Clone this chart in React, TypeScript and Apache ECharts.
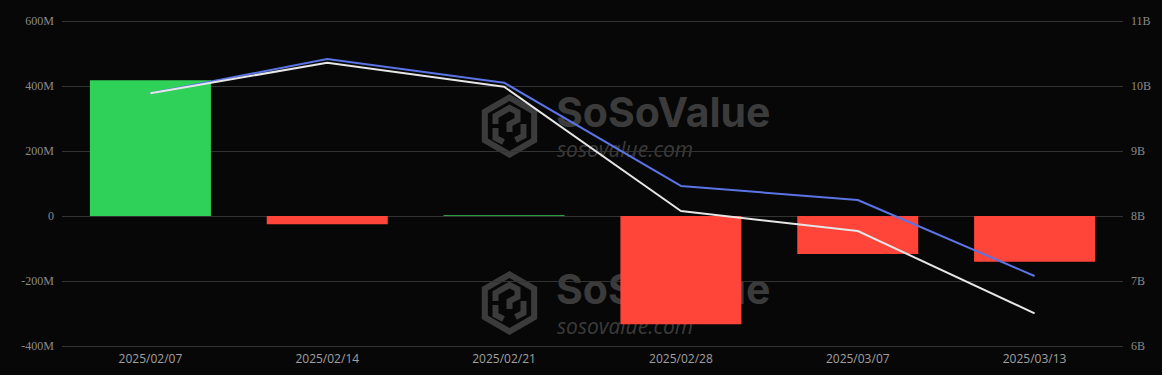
import React, { useEffect, useRef } from "react";
import * as echarts from "echarts";

const categories = ["2025/02/07", "2025/02/14", "2025/02/21", "2025/02/28", "2025/03/07", "2025/03/13"];
const netFlow = [418e6, -25e6, 2e6, -333e6, -117e6, -141e6];
const blueLine = [9.888e9, 10.415e9, 10.051e9, 8.462e9, 8.246e9, 7.077e9];
const whiteLine = [9.888e9, 10.358e9, 9.989e9, 8.077e9, 7.769e9, 6.503e9];

const GREEN = "#30d158";
const RED = "#ff453a";
const BG = "#070707";
const WM = "#3b3b3b";

function hexPoints(cx: number, cy: number, r: number) {
  const pts: number[][] = [];
  for (let i = 0; i < 6; i++) {
    const a = ((-90 + i * 60) * Math.PI) / 180;
    pts.push([cx + r * Math.cos(a), cy + r * Math.sin(a)]);
  }
  return pts;
}

function watermark(dy: number) {
  const cx = 509.5;
  const cy = 126 + dy;
  return {
    type: "group",
    silent: true,
    z: -10,
    children: [
      { type: "polygon", shape: { points: hexPoints(cx, cy, 32) }, style: { fill: WM } },
      { type: "polygon", shape: { points: hexPoints(cx, cy, 25) }, style: { fill: BG } },
      {
        type: "polyline",
        shape: {
          points: [
            [cx - 14, cy - 2],
            [cx - 14, cy - 10],
            [cx, cy - 18],
            [cx + 8, cy - 14],
            [cx + 8, cy - 6],
            [cx, cy - 2],
            [cx, cy + 6],
          ],
        },
        style: { stroke: WM, lineWidth: 6, fill: null },
      },
      {
        type: "polyline",
        shape: {
          points: [
            [cx - 14, cy + 2],
            [cx - 14, cy + 12],
            [cx - 6, cy + 16],
          ],
        },
        style: { stroke: WM, lineWidth: 6, fill: null },
      },
      {
        type: "polyline",
        shape: {
          points: [
            [cx + 14, cy - 2],
            [cx + 14, cy + 10],
            [cx + 6, cy + 14],
          ],
        },
        style: { stroke: WM, lineWidth: 6, fill: null },
      },
      {
        type: "text",
        x: 556,
        y: 132 + dy,
        style: {
          text: "SoSoValue",
          fill: WM,
          font: "bold 41px Inter",
          textVerticalAlign: "bottom",
        },
      },
      {
        type: "text",
        x: 557,
        y: 138 + dy,
        style: {
          text: "sosovalue.com",
          fill: WM,
          font: "italic 21px 'Open Sans'",
          textVerticalAlign: "top",
        },
      },
    ],
  };
}

export default function App() {
  const ref = useRef<HTMLDivElement>(null);
  useEffect(() => {
    if (!ref.current) return;
    const chart = echarts.init(ref.current, null, { renderer: "svg" });
    chart.setOption({
      animation: false,
      backgroundColor: BG,
      grid: { left: 62, right: 39, top: 21, bottom: 29 },
      graphic: [watermark(0), watermark(177)],
      xAxis: {
        type: "category",
        data: categories,
        axisLine: { show: false },
        axisTick: { show: false },
        axisLabel: { color: "#a0a0a0", fontSize: 12, fontFamily: "'Open Sans'", margin: 6 },
      },
      yAxis: [
        {
          type: "value",
          min: -400e6,
          max: 600e6,
          interval: 200e6,
          axisLine: { show: false },
          axisTick: { show: false },
          splitLine: { lineStyle: { color: "#333333", width: 1 } },
          axisLabel: {
            color: "#8a8a8a",
            fontSize: 12,
            fontFamily: "'Liberation Serif', serif",
            margin: 8,
            formatter: (v: number) => (v === 0 ? "0" : v / 1e6 + "M"),
          },
        },
        {
          type: "value",
          min: 6e9,
          max: 11e9,
          interval: 1e9,
          position: "right",
          axisLine: { show: false },
          axisTick: { show: false },
          splitLine: { show: false },
          axisLabel: {
            color: "#8a8a8a",
            fontSize: 12,
            fontFamily: "'Liberation Serif', serif",
            margin: 8,
            formatter: (v: number) => v / 1e9 + "B",
          },
        },
      ],
      series: [
        {
          type: "bar",
          yAxisIndex: 0,
          barWidth: 121,
          z: 2,
          data: netFlow.map((v) => ({ value: v, itemStyle: { color: v >= 0 ? GREEN : RED } })),
        },
        {
          type: "line",
          yAxisIndex: 1,
          data: blueLine,
          symbol: "none",
          z: 3,
          lineStyle: { color: "#5a74e6", width: 2 },
        },
        {
          type: "line",
          yAxisIndex: 1,
          data: whiteLine,
          symbol: "none",
          z: 4,
          lineStyle: { color: "#e6e6e6", width: 2 },
        },
      ],
    });
    return () => chart.dispose();
  }, []);
  return <div ref={ref} style={{ position: "fixed", left: 0, top: 0, width: 1162, height: 375 }} />;
}
